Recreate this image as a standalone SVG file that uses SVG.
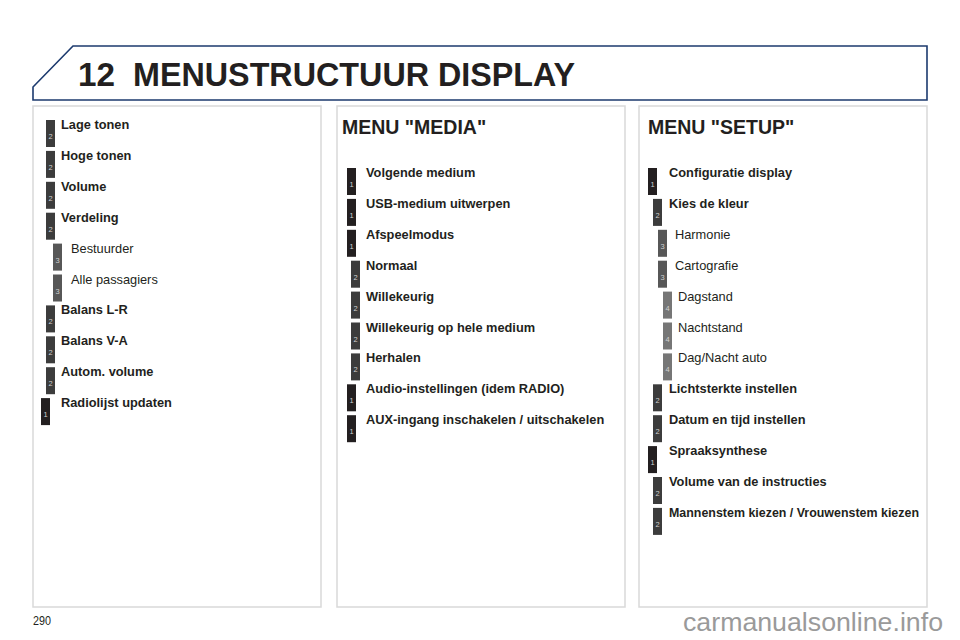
<svg xmlns="http://www.w3.org/2000/svg" width="960" height="640" viewBox="0 0 960 640">
<style>
.panel{fill:#fff;stroke:#d9d9d9;stroke-width:1.5}
.b1{fill:#231f20}.b2{fill:#3c3c3c}.b3{fill:#575757}.b4{fill:#767676}
.num{font-family:"Liberation Sans",Arial,sans-serif;font-size:7.5px;fill:#d0d0d0;text-anchor:middle}
.lb{font-family:"Liberation Sans",Arial,sans-serif;font-size:12.8px;font-weight:bold;fill:#231f20}
.lr{font-family:"Liberation Sans",Arial,sans-serif;font-size:12.8px;fill:#231f20}
.h{font-family:"Liberation Sans",Arial,sans-serif;font-size:19.5px;font-weight:bold;fill:#231f20}
</style>
<rect width="960" height="640" fill="#fff"/>
<g id="header">
<polygon points="33,100 33,87 73,46 927,46 927,100" fill="#fff" stroke="#1c3a6e" stroke-width="1.6"/>
<text x="78" y="86" font-family="Liberation Sans,Arial,sans-serif" font-size="33" font-weight="bold" fill="#231f20" textLength="37" lengthAdjust="spacingAndGlyphs">12</text>
<text x="133" y="86" font-family="Liberation Sans,Arial,sans-serif" font-size="33" font-weight="bold" fill="#231f20" textLength="442" lengthAdjust="spacingAndGlyphs">MENUSTRUCTUUR DISPLAY</text>
</g>
<rect class="panel" x="33" y="106" width="288" height="501"/>
<rect class="panel" x="337" y="106" width="288" height="501"/>
<rect class="panel" x="639" y="106" width="288" height="501"/>

<!-- Left column -->
<g id="lage-tonen" transform="translate(0,129)"><rect class="b2" x="46" y="-9" width="9" height="27"/><text class="num" x="50.5" y="10">2</text><text class="lb" x="61" y="0">Lage tonen</text></g>
<g id="hoge-tonen" transform="translate(0,159.9)"><rect class="b2" x="46" y="-9" width="9" height="27"/><text class="num" x="50.5" y="10">2</text><text class="lb" x="61" y="0">Hoge tonen</text></g>
<g id="volume" transform="translate(0,190.8)"><rect class="b2" x="46" y="-9" width="9" height="27"/><text class="num" x="50.5" y="10">2</text><text class="lb" x="61" y="0">Volume</text></g>
<g id="verdeling" transform="translate(0,221.7)"><rect class="b2" x="46" y="-9" width="9" height="27"/><text class="num" x="50.5" y="10">2</text><text class="lb" x="61" y="0">Verdeling</text></g>
<g id="bestuurder" transform="translate(0,252.6)"><rect class="b3" x="53" y="-9" width="9" height="27"/><text class="num" x="57.5" y="10">3</text><text class="lr" x="71" y="0">Bestuurder</text></g>
<g id="alle-passagiers" transform="translate(0,283.5)"><rect class="b3" x="53" y="-9" width="9" height="27"/><text class="num" x="57.5" y="10">3</text><text class="lr" x="71" y="0">Alle passagiers</text></g>
<g id="balans-lr" transform="translate(0,314.4)"><rect class="b2" x="46" y="-9" width="9" height="27"/><text class="num" x="50.5" y="10">2</text><text class="lb" x="61" y="0">Balans L-R</text></g>
<g id="balans-va" transform="translate(0,345.3)"><rect class="b2" x="46" y="-9" width="9" height="27"/><text class="num" x="50.5" y="10">2</text><text class="lb" x="61" y="0">Balans V-A</text></g>
<g id="autom-volume" transform="translate(0,376.2)"><rect class="b2" x="46" y="-9" width="9" height="27"/><text class="num" x="50.5" y="10">2</text><text class="lb" x="61" y="0">Autom. volume</text></g>
<g id="radiolijst" transform="translate(0,407.1)"><rect class="b1" x="41" y="-9" width="9" height="27"/><text class="num" x="45.5" y="10">1</text><text class="lb" x="61" y="0">Radiolijst updaten</text></g>

<!-- Middle column -->
<text class="h" x="342" y="134">MENU "MEDIA"</text>
<g id="volgende-medium" transform="translate(0,177)"><rect class="b1" x="347" y="-9" width="9" height="27"/><text class="num" x="351.5" y="10">1</text><text class="lb" x="366" y="0">Volgende medium</text></g>
<g id="usb-uitwerpen" transform="translate(0,207.9)"><rect class="b1" x="347" y="-9" width="9" height="27"/><text class="num" x="351.5" y="10">1</text><text class="lb" x="366" y="0">USB-medium uitwerpen</text></g>
<g id="afspeelmodus" transform="translate(0,238.8)"><rect class="b1" x="347" y="-9" width="9" height="27"/><text class="num" x="351.5" y="10">1</text><text class="lb" x="366" y="0">Afspeelmodus</text></g>
<g id="normaal" transform="translate(0,269.7)"><rect class="b2" x="351" y="-9" width="9" height="27"/><text class="num" x="355.5" y="10">2</text><text class="lb" x="366" y="0">Normaal</text></g>
<g id="willekeurig" transform="translate(0,300.6)"><rect class="b2" x="351" y="-9" width="9" height="27"/><text class="num" x="355.5" y="10">2</text><text class="lb" x="366" y="0">Willekeurig</text></g>
<g id="willekeurig-hele" transform="translate(0,331.5)"><rect class="b2" x="351" y="-9" width="9" height="27"/><text class="num" x="355.5" y="10">2</text><text class="lb" x="366" y="0">Willekeurig op hele medium</text></g>
<g id="herhalen" transform="translate(0,362.4)"><rect class="b2" x="351" y="-9" width="9" height="27"/><text class="num" x="355.5" y="10">2</text><text class="lb" x="366" y="0">Herhalen</text></g>
<g id="audio-instellingen" transform="translate(0,393.3)"><rect class="b1" x="347" y="-9" width="9" height="27"/><text class="num" x="351.5" y="10">1</text><text class="lb" x="366" y="0">Audio-instellingen (idem RADIO)</text></g>
<g id="aux-ingang" transform="translate(0,424.2)"><rect class="b1" x="347" y="-9" width="9" height="27"/><text class="num" x="351.5" y="10">1</text><text class="lb" x="366" y="0">AUX-ingang inschakelen / uitschakelen</text></g>

<!-- Right column -->
<text class="h" x="648" y="134">MENU "SETUP"</text>
<g id="configuratie-display" transform="translate(0,177)"><rect class="b1" x="648" y="-9" width="9" height="27"/><text class="num" x="652.5" y="10">1</text><text class="lb" x="669" y="0">Configuratie display</text></g>
<g id="kies-de-kleur" transform="translate(0,207.9)"><rect class="b2" x="653" y="-9" width="9" height="27"/><text class="num" x="657.5" y="10">2</text><text class="lb" x="669" y="0">Kies de kleur</text></g>
<g id="harmonie" transform="translate(0,238.8)"><rect class="b3" x="658" y="-9" width="9" height="27"/><text class="num" x="662.5" y="10">3</text><text class="lr" x="675" y="0">Harmonie</text></g>
<g id="cartografie" transform="translate(0,269.7)"><rect class="b3" x="658" y="-9" width="9" height="27"/><text class="num" x="662.5" y="10">3</text><text class="lr" x="675" y="0">Cartografie</text></g>
<g id="dagstand" transform="translate(0,300.6)"><rect class="b4" x="663" y="-9" width="9" height="27"/><text class="num" x="667.5" y="10">4</text><text class="lr" x="678" y="0">Dagstand</text></g>
<g id="nachtstand" transform="translate(0,331.5)"><rect class="b4" x="663" y="-9" width="9" height="27"/><text class="num" x="667.5" y="10">4</text><text class="lr" x="678" y="0">Nachtstand</text></g>
<g id="dag-nacht-auto" transform="translate(0,362.4)"><rect class="b4" x="663" y="-9" width="9" height="27"/><text class="num" x="667.5" y="10">4</text><text class="lr" x="678" y="0">Dag/Nacht auto</text></g>
<g id="lichtsterkte" transform="translate(0,393.3)"><rect class="b2" x="653" y="-9" width="9" height="27"/><text class="num" x="657.5" y="10">2</text><text class="lb" x="669" y="0">Lichtsterkte instellen</text></g>
<g id="datum-tijd" transform="translate(0,424.2)"><rect class="b2" x="653" y="-9" width="9" height="27"/><text class="num" x="657.5" y="10">2</text><text class="lb" x="669" y="0">Datum en tijd instellen</text></g>
<g id="spraaksynthese" transform="translate(0,455.1)"><rect class="b1" x="648" y="-9" width="9" height="27"/><text class="num" x="652.5" y="10">1</text><text class="lb" x="669" y="0">Spraaksynthese</text></g>
<g id="volume-instructies" transform="translate(0,486)"><rect class="b2" x="653" y="-9" width="9" height="27"/><text class="num" x="657.5" y="10">2</text><text class="lb" x="669" y="0">Volume van de instructies</text></g>
<g id="mannenstem" transform="translate(0,516.9)"><rect class="b2" x="653" y="-9" width="9" height="27"/><text class="num" x="657.5" y="10">2</text><text class="lb" x="669" y="0" textLength="250" lengthAdjust="spacingAndGlyphs">Mannenstem kiezen / Vrouwenstem kiezen</text></g>

<text x="33" y="625" font-family="Liberation Sans,Arial,sans-serif" font-size="13" fill="#231f20" textLength="18" lengthAdjust="spacingAndGlyphs">290</text>
<text x="683" y="631" font-family="Liberation Sans,Arial,sans-serif" font-size="26" fill="#9a9a9a" textLength="260" lengthAdjust="spacingAndGlyphs">carmanualsonline.info</text>
</svg>
